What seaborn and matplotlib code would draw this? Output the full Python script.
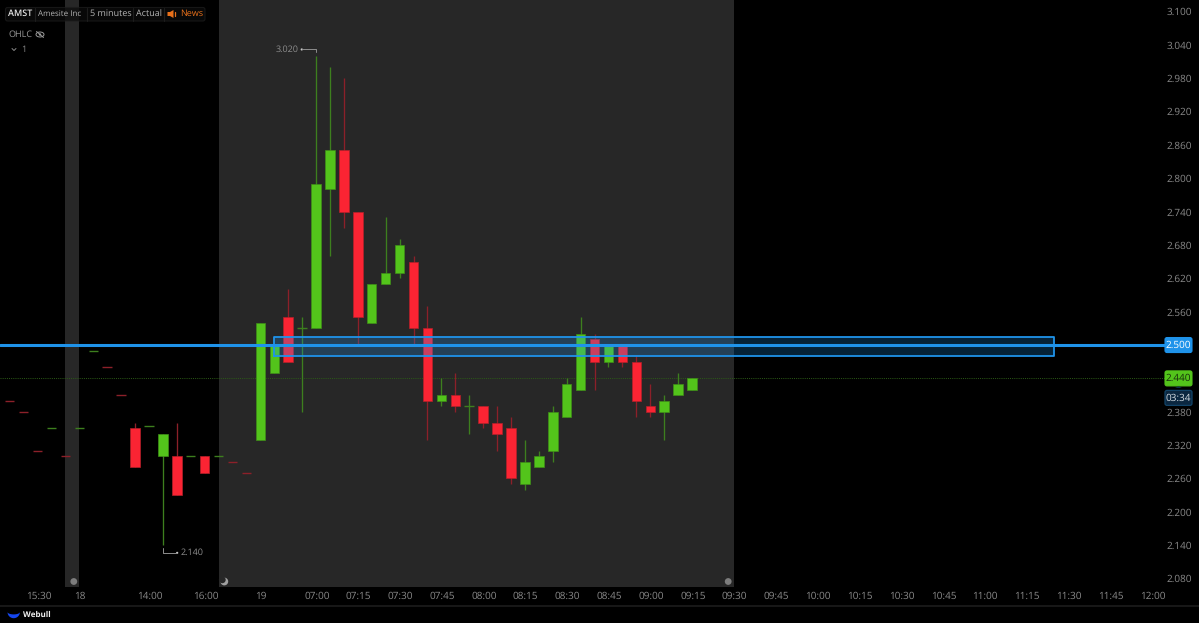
import numpy as np
import pandas as pd
import matplotlib
matplotlib.use("Agg")
import matplotlib.pyplot as plt
from matplotlib.patches import FancyBboxPatch, Circle, Polygon, Ellipse
from matplotlib.transforms import ScaledTranslation
import seaborn as sns

# ---------- data ----------
body_top = [2.40,2.38,2.31,2.35,2.30,2.35,2.49,2.46,2.41,2.35,2.355,2.34,2.30,2.30,2.30,2.30,2.29,2.27,
            2.54,2.50,2.55,2.53,2.79,2.85,2.85,2.74,2.61,2.63,2.68,2.65,2.53,2.41,2.41,2.39,2.39,2.36,2.35,
            2.29,2.30,2.38,2.43,2.52,2.51,2.50,2.50,2.47,2.39,2.40,2.43,2.44]
body_bottom = [2.40,2.38,2.31,2.35,2.30,2.35,2.49,2.46,2.41,2.28,2.355,2.30,2.23,2.30,2.27,2.30,2.29,2.27,
               2.33,2.45,2.47,2.53,2.53,2.78,2.74,2.55,2.54,2.61,2.63,2.53,2.40,2.40,2.39,2.39,2.36,2.34,2.26,
               2.25,2.28,2.31,2.37,2.42,2.47,2.47,2.47,2.40,2.38,2.38,2.41,2.42]
highs = [2.40,2.38,2.31,2.35,2.30,2.35,2.49,2.46,2.41,2.36,2.355,2.34,2.36,2.30,2.30,2.30,2.29,2.27,
         2.54,2.50,2.60,2.55,3.02,3.00,2.98,2.74,2.61,2.73,2.69,2.66,2.57,2.44,2.45,2.41,2.39,2.39,2.37,
         2.33,2.31,2.39,2.44,2.55,2.52,2.50,2.50,2.48,2.43,2.41,2.45,2.44]
lows = [2.40,2.38,2.31,2.35,2.30,2.35,2.49,2.46,2.41,2.28,2.355,2.14,2.23,2.30,2.27,2.30,2.29,2.27,
        2.33,2.45,2.47,2.38,2.53,2.66,2.71,2.50,2.54,2.61,2.62,2.50,2.33,2.39,2.38,2.34,2.35,2.31,2.25,
        2.24,2.28,2.29,2.37,2.42,2.42,2.46,2.46,2.37,2.37,2.33,2.41,2.42]
rising = [0,0,0,1,0,1,1,0,0,0,1,1,0,1,0,1,0,0,
          1,1,0,1,1,1,0,0,1,1,1,0,0,1,0,1,0,0,0,
          1,1,1,1,1,0,1,0,0,0,1,1,1]

time_slots = [2,5,10,14,18,22,25,28,31,34,37,40,43,46,49,52,55,58,61,64,67,70,73,76,79,82]
time_labels = ["15:30","18","14:00","16:00","19","07:00","07:15","07:30","07:45","08:00","08:15","08:30",
               "08:45","09:00","09:15","09:30","09:45","10:00","10:15","10:30","10:45","11:00","11:15",
               "11:30","11:45","12:00"]
price_ticks = [3.10,3.04,2.98,2.92,2.86,2.80,2.74,2.68,2.62,2.56,2.38,2.32,2.26,2.20,2.14,2.08]
sessions = [(4,5),(15,52)]
level_price = 2.50
last_price = 2.44
zone_slots = (19.0,75.0)
zone_prices = (2.48,2.514)

# ---------- style ----------
GREEN, RED = "#53c41b", "#fb2433"
GREEN_D, RED_D = "#3d7f1e", "#8c2029"
BLUE = "#1f93ea"
GREY = "#8a8a8a"
BAND = "#272727"
sns.set_theme(style="dark", rc={"figure.facecolor":"#000000","axes.facecolor":"#000000",
                                "savefig.facecolor":"#000000","axes.grid":False})
plt.rcParams["font.family"] = ["Open Sans","DejaVu Sans"]
plt.rcParams["text.hinting"] = "no_hinting"
plt.rcParams["text.hinting_factor"] = 1

W, H = 1199, 623
fig = plt.figure(figsize=(W/100, H/100), dpi=100)
ax = fig.add_axes([0, (H-587)/H, 1165/W, 587/H])

df = pd.DataFrame({"slot":np.arange(len(body_top)),"top":body_top,"bottom":body_bottom,
                   "high":highs,"low":lows,"rising":rising})
df["height"] = df["top"]-df["bottom"]
df["wick"] = np.where(df["rising"]==1, GREEN_D, RED_D)

for a,b in sessions:
    ax.axvspan(a,b,color=BAND,lw=0,zorder=0)

# wicks and flat dashes
ax.vlines(df["slot"],df["low"],df["high"],colors=df["wick"],lw=0.95,zorder=2)
flat = df[df["height"]<1e-6]
ax.hlines(flat["top"],flat["slot"]-0.34,flat["slot"]+0.34,colors=flat["wick"],lw=1.0,zorder=2)

# candle bodies
for flag,col,edge in [(1,GREEN,"#3f8f18"),(0,RED,"#b52029")]:
    sub = df[(df["rising"]==flag)&(df["height"]>1e-6)]
    sns.barplot(data=sub,x="slot",y="height",bottom=sub["bottom"].values,native_scale=True,orient="x",
                width=0.68,color=col,saturation=1,errorbar=None,edgecolor=edge,linewidth=0.5,
                legend=False,ax=ax,zorder=3)

ax.set_xlim(-9.7/13.925,(1165-9.7)/13.925)
ax.set_ylim(3.1-(587-11.5)/555.9,3.1-(0-11.5)/555.9)

# zone, level and last-price line
ax.fill_between(zone_slots,zone_prices[0],zone_prices[1],color="#1a9cff",alpha=0.22,lw=0,zorder=4)
ax.plot([zone_slots[0],zone_slots[1],zone_slots[1],zone_slots[0],zone_slots[0]],
        [zone_prices[0],zone_prices[0],zone_prices[1],zone_prices[1],zone_prices[0]],
        color=BLUE,lw=1.3,zorder=5)
ax.axhline(level_price,color=BLUE,lw=2.2,zorder=6)
ax.axhline(last_price,color="#2c5c16",lw=0.7,ls=(0,(1,1.2)),zorder=1)

# axes
ax.set_xticks(time_slots,time_labels)
ax.set_yticks(price_ticks,[f"{p:.3f}" for p in price_ticks])
ax.yaxis.tick_right()
ax.tick_params(axis="x",length=0,pad=3.3,labelsize=6.9,labelcolor=GREY)
ax.tick_params(axis="y",length=0,pad=1.4,labelsize=6.9,labelcolor=GREY)
for lab in ax.get_xticklabels():
    lab.set_transform(lab.get_transform()+ScaledTranslation(0.8/100,0,fig.dpi_scale_trans))
ax.set_xlabel("");ax.set_ylabel("")
for s in ax.spines.values():
    s.set_visible(False)

# ---------- pixel overlay ----------
ov = fig.add_axes([0,0,1,1],facecolor="none",zorder=10)
ov.set_xlim(0,W);ov.set_ylim(H,0);ov.axis("off")
def px(slot,price):
    x,y = ax.transData.transform((slot,price))
    return x, H-y

def tag(price,label,face,edge,tc,h=17):
    _,y = px(0,price)
    ov.add_patch(FancyBboxPatch((1165,y-h/2+1),27,h-2,boxstyle="round,pad=0,rounding_size=2",
                                fc=face,ec=edge,lw=0.8))
    ov.text(1178.5,y,label,color=tc,fontsize=7.0,ha="center",va="center")

tag(level_price,"2.500",BLUE,BLUE,"#ffffff")
tag(last_price,"2.440",GREEN,GREEN,"#16300a")
_,ly = px(0,last_price)
ov.add_patch(Polygon([(1175,ly+9.5),(1178.5,ly+8),(1182,ly+9.5)],fc="#0f3553",ec="none"))
ov.add_patch(FancyBboxPatch((1165,ly+12),27,15,boxstyle="round,pad=0,rounding_size=2",
                            fc="#0b2740",ec="#124468",lw=0.9))
ov.text(1178.5,ly+19.7,"03:34",color="#d5dde3",fontsize=7.0,ha="center",va="center")

# high / low markers
i_hi = int(df["high"].idxmax()); i_lo = int(df["low"].idxmin())
xh,yh = px(i_hi,df["high"][i_hi]); xl,yl = px(i_lo,df["low"][i_lo])
c = "#8e8e8e"
ov.plot([xh-14,xh,xh],[yh-6.5,yh-6.5,yh-3.5],color=c,lw=0.7)
ov.add_patch(Circle((xh-14.3,yh-6.5),1.1,fc="#c8c8c8",ec="none"))
ov.text(xh-17.5,yh-6.5,f"{df['high'][i_hi]:.3f}",color=c,fontsize=6.6,ha="right",va="center")
ov.plot([xl,xl,xl+14],[yl+3,yl+7.7,yl+7.7],color=c,lw=0.7)
ov.add_patch(Circle((xl+14.3,yl+7.7),1.1,fc="#c8c8c8",ec="none"))
ov.text(xl+18,yl+7.7,f"{df['low'][i_lo]:.3f}",color=c,fontsize=6.6,ha="left",va="center")

# session icons
ov.add_patch(Circle((73.8,581.5),3.4,fc="#7d7d7d",ec="none"))
ov.add_patch(Circle((728.2,581.5),3.4,fc="#7d7d7d",ec="none"))
ov.add_patch(Circle((224.3,581.5),3.9,fc="#a0a0a0",ec="none"))
ov.add_patch(Circle((222.3,579.8),3.4,fc=BAND,ec="none"))

# header
ov.add_patch(FancyBboxPatch((5.5,7.5),199.5,13.5,boxstyle="round,pad=0,rounding_size=2",
                            fc="#0c0c0c",ec="#1d1d1d",lw=0.8,alpha=0.75))
for xs in (35,86.5,133,164):
    ov.plot([xs,xs],[8,21],color="#1d1d1d",lw=0.8)
HT = "#b4b4b4"
ov.text(8,14,"AMST",color="#e6e6e6",fontsize=6.4,va="center",weight="semibold")
ov.text(38,14,"Amesite Inc",color=HT,fontsize=6.1,va="center")
ov.text(90.5,14,"5 minutes",color=HT,fontsize=6.2,va="center")
ov.text(136.5,14,"Actual",color=HT,fontsize=6.6,va="center")
ORANGE = "#e8701a"
ov.add_patch(Polygon([(167.5,12),(170,12),(173.5,10),(173.5,18),(170,16),(167.5,16)],fc=ORANGE,ec="none"))
ov.plot([175,175],[12,16],color=ORANGE,lw=0.9)
ov.text(180,14,"News",color=ORANGE,fontsize=6.6,va="center")

ov.text(8.5,34.5,"OHLC",color="#9a9a9a",fontsize=6.6,va="center")
ov.add_patch(Ellipse((40,34.5),8,5,fc="none",ec="#9a9a9a",lw=0.7))
ov.add_patch(Circle((40,34.5),1.2,fc="#9a9a9a",ec="none"))
ov.plot([36.5,43.5],[31.5,37.5],color="#9a9a9a",lw=0.7)
ov.plot([12,14,16],[48.5,50.5,48.5],color="#8a8a8a",lw=0.7)
ov.text(21.5,49.5,"1",color="#8a8a8a",fontsize=6.6,va="center")

# footer
ov.plot([0,W],[605.7,605.7],color="#1c1c1c",lw=1.2)
t = np.linspace(0,np.pi,30)
outer = np.c_[13.7+6.2*np.cos(t),612+6.2*np.sin(t)]
inner = np.c_[13.7+6.2*np.cos(t[::-1]),612+2.4*np.sin(t[::-1])]
ov.add_patch(Polygon(np.r_[outer,inner],fc="#1546ee",ec="none"))
ov.text(23.3,615,"Webull",color="#f0f0f0",fontsize=5.9,weight="bold",va="center")

fig.savefig("out.png",dpi=100,facecolor="#000000")
